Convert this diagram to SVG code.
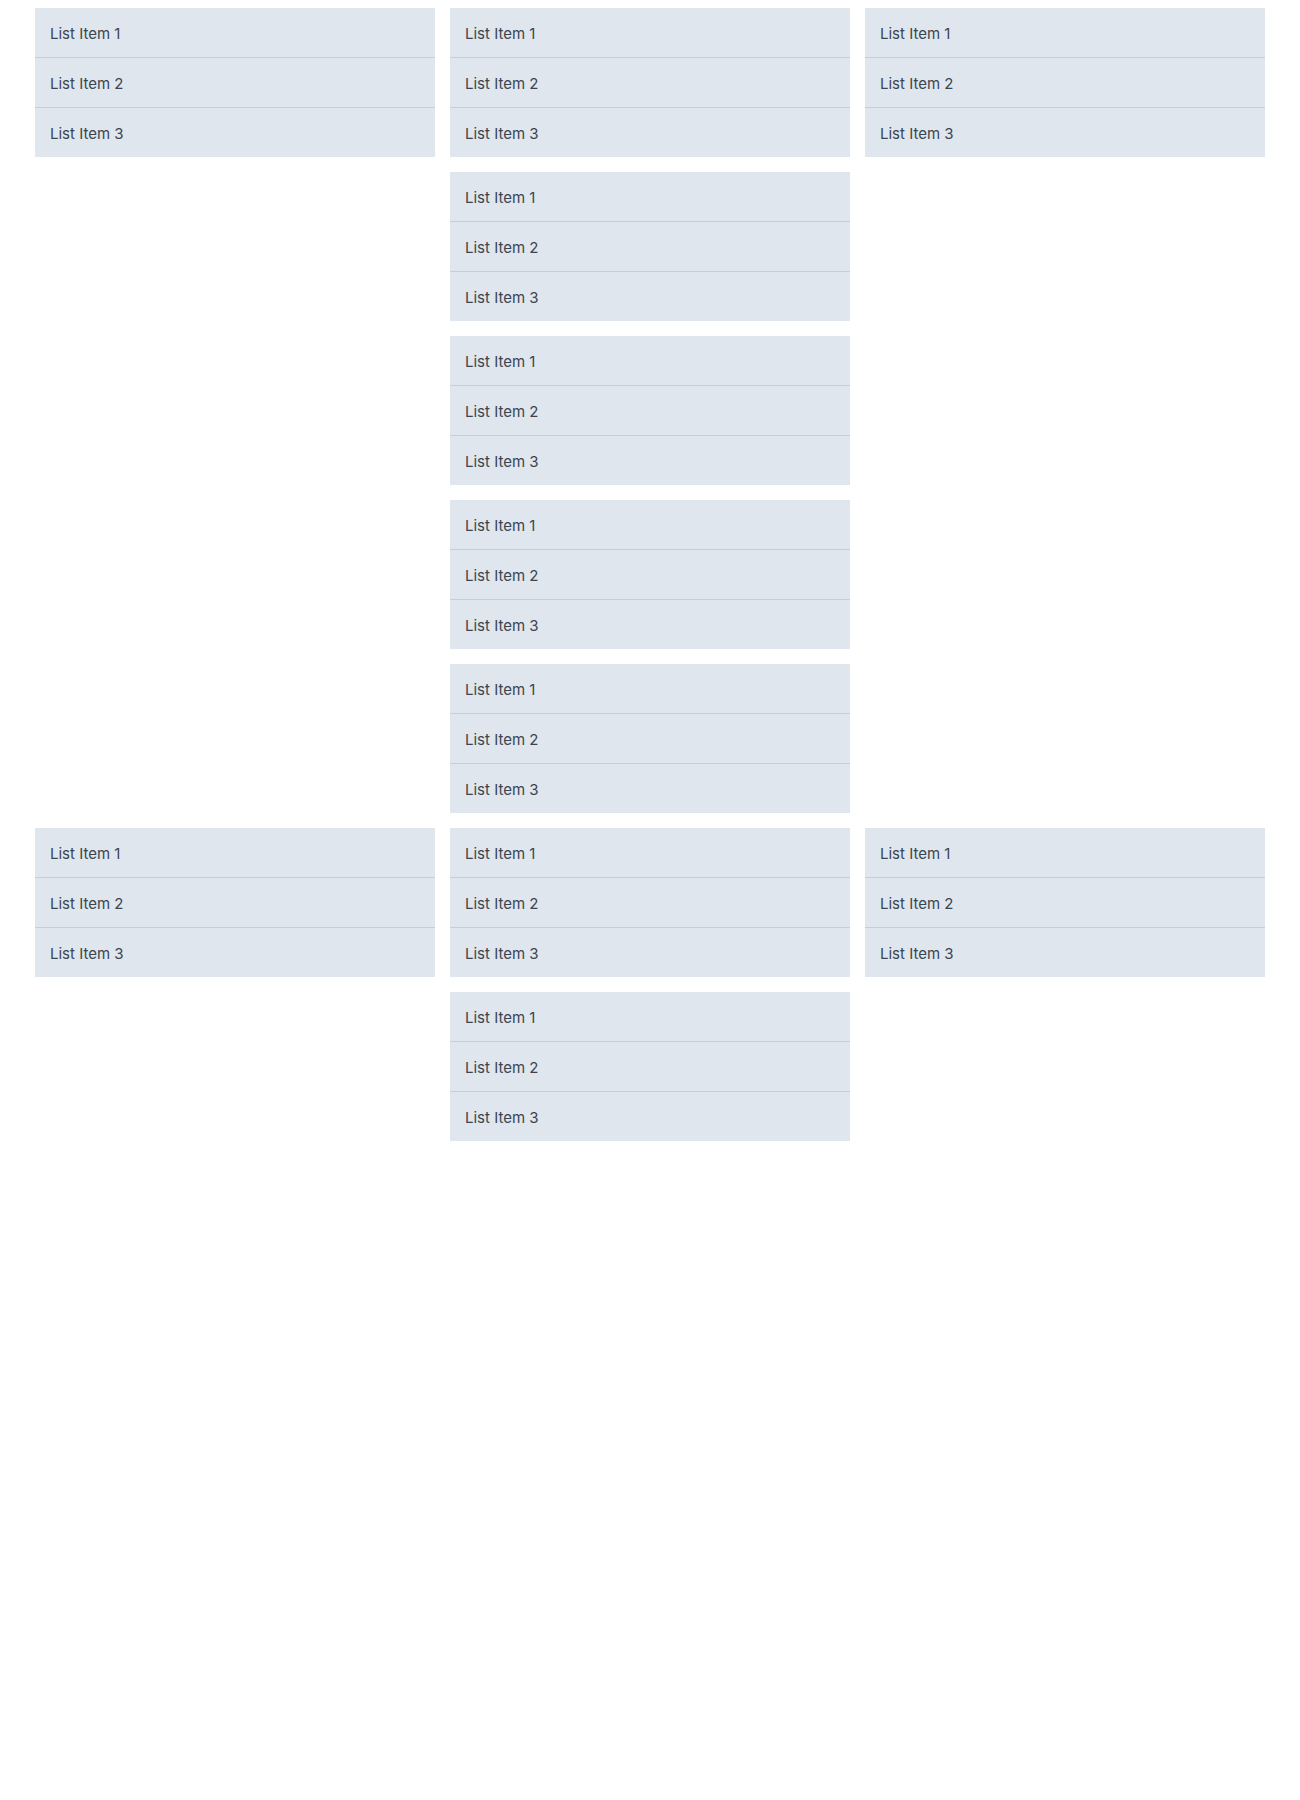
<svg xmlns="http://www.w3.org/2000/svg" width="1300" height="1800" viewBox="0 0 1300 1800">
<defs>
<style>
.box{fill:#dfe6ed}
.div{stroke:#c5cfd8;stroke-width:1}
.t{font-family:Inter,"Noto Sans","Liberation Sans",sans-serif;font-size:15px;fill:#3b4550}
</style>
<g id="list">
<rect class="box" x="0" y="0" width="400" height="149"/>
<line class="div" x1="0" y1="49.5" x2="400" y2="49.5"/>
<line class="div" x1="0" y1="99.5" x2="400" y2="99.5"/>
<text class="t" x="15" y="30.5">List Item 1</text>
<text class="t" x="15" y="80.5">List Item 2</text>
<text class="t" x="15" y="130.5">List Item 3</text>
</g>
</defs>
<rect width="1300" height="1800" fill="#ffffff"/>
<g id="c1r0" transform="translate(35,8)"><use href="#list"/></g>
<g id="c2r0" transform="translate(450,8)"><use href="#list"/></g>
<g id="c3r0" transform="translate(865,8)"><use href="#list"/></g>
<g id="c2r1" transform="translate(450,172)"><use href="#list"/></g>
<g id="c2r2" transform="translate(450,336)"><use href="#list"/></g>
<g id="c2r3" transform="translate(450,500)"><use href="#list"/></g>
<g id="c2r4" transform="translate(450,664)"><use href="#list"/></g>
<g id="c1r5" transform="translate(35,828)"><use href="#list"/></g>
<g id="c2r5" transform="translate(450,828)"><use href="#list"/></g>
<g id="c3r5" transform="translate(865,828)"><use href="#list"/></g>
<g id="c2r6" transform="translate(450,992)"><use href="#list"/></g>
<g id="connectors"/>
</svg>
